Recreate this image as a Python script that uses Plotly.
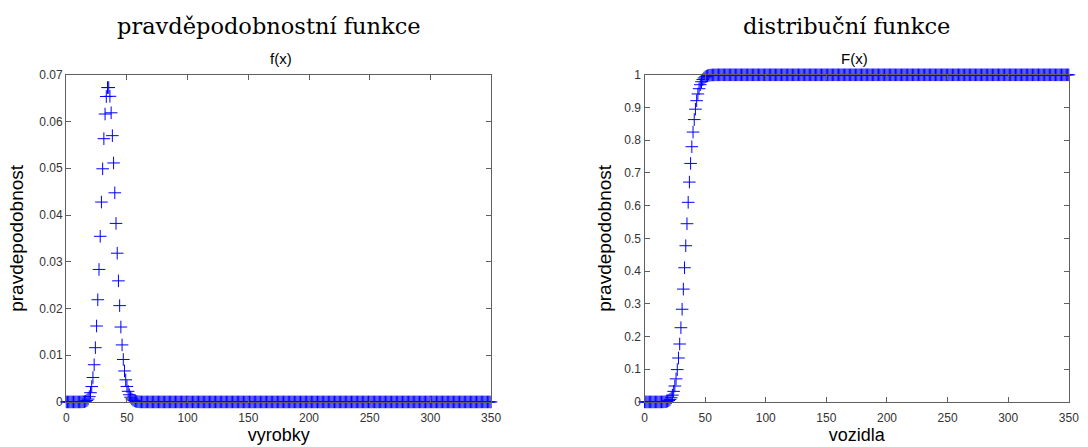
import plotly.graph_objects as go

# ---- data ----
x_values = list(range(0, 351))

pmf_head = [
    0, 0, 0, 0, 0, 0, 0, 0, 0, 0, 0, 0,
    0.0000045, 0.0000121, 0.0000302, 0.0000699, 0.000153, 0.000315, 0.000612,
    0.001127, 0.001972, 0.003287, 0.005230, 0.007958, 0.01161, 0.01625,
    0.02187, 0.02835, 0.03544, 0.04277, 0.04989, 0.05633, 0.06161, 0.06535,
    0.06727, 0.06727, 0.06540, 0.06187, 0.05698, 0.05114, 0.04475, 0.03820,
    0.03183, 0.02591, 0.02061, 0.01603, 0.01220, 0.009083, 0.006623, 0.004731,
    0.003312, 0.002273, 0.001530, 0.001010, 0.000655, 0.000417, 0.000261,
    0.000160, 0.0000966, 0.0000573, 0.0000334,
]
pmf_tail = [0.0] * (len(x_values) - len(pmf_head))
pmf_values = pmf_head + pmf_tail

cdf_head = [
    0, 0, 0, 0, 0, 0, 0, 0, 0, 0, 0, 0,
    0.0000065, 0.0000187, 0.0000489, 0.000119, 0.000272, 0.000587, 0.001199,
    0.002326, 0.004298, 0.007585, 0.012815, 0.020773, 0.032383, 0.048633,
    0.070503, 0.098853, 0.134293, 0.177063, 0.226953, 0.283283, 0.344893,
    0.410243, 0.477513, 0.544783, 0.610183, 0.672053, 0.729033, 0.780173,
    0.824923, 0.863123, 0.894953, 0.920863, 0.941473, 0.957503, 0.969703,
    0.978786, 0.985409, 0.990140, 0.993452, 0.995725, 0.997255, 0.998265,
    0.998920, 0.999337, 0.999598, 0.999758, 0.999855, 0.999912, 0.999945,
]
cdf_tail = [1.0] * (len(x_values) - len(cdf_head))
cdf_values = cdf_head + cdf_tail

x_ticks = [0, 50, 100, 150, 200, 250, 300, 350]
y1_ticks = [0, 0.01, 0.02, 0.03, 0.04, 0.05, 0.06, 0.07]
y1_labels = ["0", "0.01", "0.02", "0.03", "0.04", "0.05", "0.06", "0.07"]
y2_ticks = [0, 0.1, 0.2, 0.3, 0.4, 0.5, 0.6, 0.7, 0.8, 0.9, 1]
y2_labels = ["0", "0.1", "0.2", "0.3", "0.4", "0.5", "0.6", "0.7", "0.8", "0.9", "1"]

# ---- figure ----
W, H = 1088, 447
fig = go.Figure()

marker = dict(symbol="cross-thin", size=9, line=dict(color="#0000FF", width=1), color="#0000FF")

fig.add_trace(go.Scatter(x=x_values, y=pmf_values, mode="markers", marker=marker,
                         xaxis="x", yaxis="y", cliponaxis=False, showlegend=False))
fig.add_trace(go.Scatter(x=x_values, y=cdf_values, mode="markers", marker=marker,
                         xaxis="x2", yaxis="y2", cliponaxis=False, showlegend=False))

def px_x(p):
    return p / W

def px_y(p):
    return 1 - p / H

ydom = [px_y(407.7), px_y(70)]
tickfont = dict(family="Arial, Liberation Sans, sans-serif", size=12, color="#333333")
titlefont = dict(family="Arial, Liberation Sans, sans-serif", size=18, color="#000000")
ytitlefont = dict(family="Arial, Liberation Sans, sans-serif", size=19, color="#000000")

axis_common = dict(
    showgrid=False, zeroline=False, showline=True, linecolor="#606060", linewidth=1.4,
    mirror="ticks", ticks="inside", ticklen=5, tickcolor="#606060", tickwidth=1,
    tickfont=tickfont,
)
xaxis_extra = dict(ticklabelstandoff=4)

fig.update_layout(
    width=W, height=H,
    margin=dict(l=0, r=0, t=0, b=0),
    paper_bgcolor="white", plot_bgcolor="white",
    xaxis=dict(domain=[px_x(64), px_x(494)], range=[0, 350], tickvals=x_ticks,
               anchor="y", title=dict(text="vyrobky", font=titlefont, standoff=3),
               **xaxis_extra, **axis_common),
    yaxis=dict(domain=ydom, range=[0, 0.07], tickvals=y1_ticks, ticktext=y1_labels,
               anchor="x", title=dict(text="pravdepodobnost", font=ytitlefont, standoff=10), **axis_common),
    xaxis2=dict(domain=[px_x(649.3), px_x(1078.7)], range=[0, 350], tickvals=x_ticks,
                anchor="y2", title=dict(text="vozidla", font=titlefont, standoff=3),
                **xaxis_extra, **axis_common),
    yaxis2=dict(domain=ydom, range=[0, 1], tickvals=y2_ticks, ticktext=y2_labels,
                anchor="x2", title=dict(text="pravdepodobnost", font=ytitlefont, standoff=7), **axis_common),
)

serif = dict(family="DejaVu Serif, Liberation Serif, serif", size=22.5, color="#000000")
sans_t = dict(family="Arial, Liberation Sans, sans-serif", size=15, color="#000000")

annotations = [
    dict(text="pravděpodobnostní funkce", x=px_x(269), y=px_y(20), font=serif),
    dict(text="distribuční funkce", x=px_x(854), y=px_y(20), font=serif),
    dict(text="f(x)", x=px_x(281), y=px_y(53), font=sans_t),
    dict(text="F(x)", x=px_x(862), y=px_y(53), font=sans_t),
]
for a in annotations:
    fig.add_annotation(xref="paper", yref="paper", showarrow=False,
                       xanchor="center", yanchor="middle", **a)

fig.write_html("out.html")
